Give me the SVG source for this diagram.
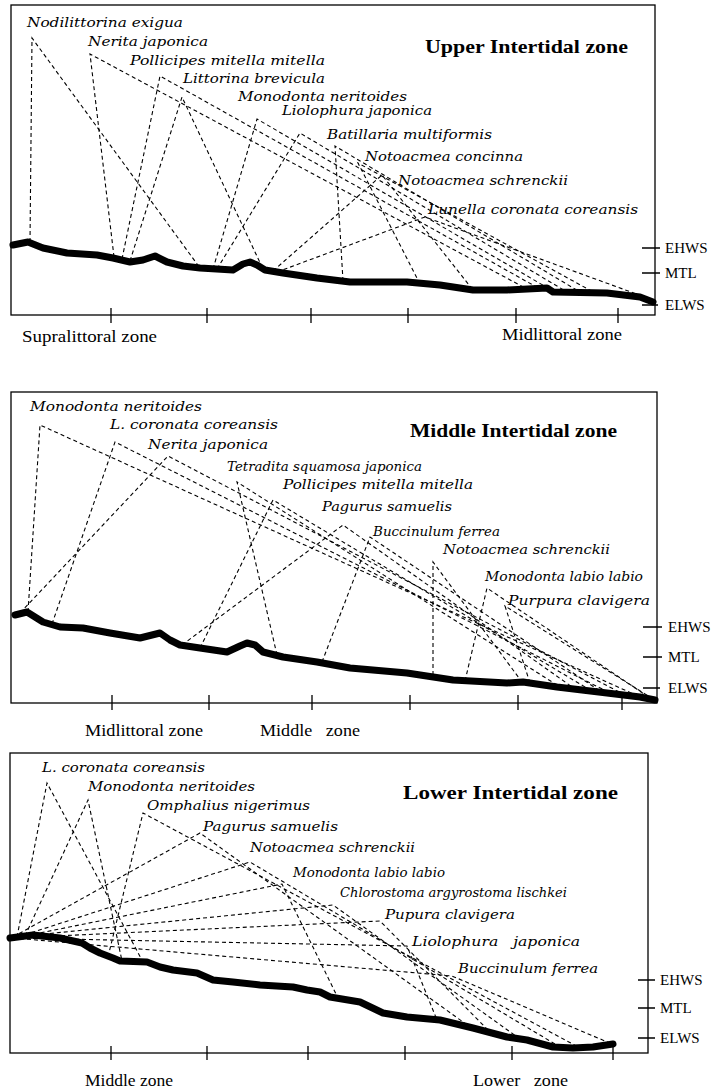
<svg xmlns="http://www.w3.org/2000/svg" width="716" height="1092" viewBox="0 0 716 1092">
<style>
.frame{fill:none;stroke:#000;stroke-width:1.3}
.tick{stroke:#000;stroke-width:1.3}
.ground{fill:none;stroke:#000;stroke-width:7;stroke-linejoin:round;stroke-linecap:round}
.dash{fill:none;stroke:#000;stroke-width:1.1;stroke-dasharray:4 3}
.sp{font-family:"DejaVu Serif","Liberation Serif",serif;font-style:italic;font-size:13px;fill:#000}
.title{font-family:"Liberation Serif",serif;font-weight:bold;font-size:19px;fill:#000}
.lvl{font-family:"Liberation Serif",serif;font-size:15px;fill:#000}
.zone{font-family:"Liberation Serif",serif;font-size:16px;fill:#000}
</style>
<rect width="716" height="1092" fill="#fff"/>

<!-- ================= PANEL 1 ================= -->
<g id="panel-upper">
  <rect class="frame" x="11" y="5" width="644" height="310"/>
  <path class="tick" d="M111,308V323 M207,308V323 M311,308V323 M408,308V323 M516,308V323 M618,308V323"/>
  <path class="tick" d="M642,248H660 M642,273H660 M642,305H658"/>
  <text class="lvl" x="665" y="253">EHWS</text>
  <text class="lvl" x="665" y="278">MTL</text>
  <text class="lvl" x="665" y="310">ELWS</text>
  <text class="zone" x="22" y="342" textLength="135" lengthAdjust="spacingAndGlyphs">Supralittoral zone</text>
  <text class="zone" x="502" y="340" textLength="120" lengthAdjust="spacingAndGlyphs">Midlittoral zone</text>
  <text class="title" x="425" y="53" textLength="203" lengthAdjust="spacingAndGlyphs">Upper Intertidal zone</text>
  <path class="ground" d="M13,245 L28,242 L43,248 L67,253 L97,255 L113,258 L130,262 L143,260 L155,256 L167,262 L183,266 L200,268 L233,270 L243,264 L250,262 L257,265 L265,270 L283,273 L317,278 L350,282 L407,282 L440,285 L473,290 L507,290 L547,288 L553,292 L607,293 L640,297 L653,302"/>
</g>
<g id="u-nodilittorina"><text class="sp" x="27" y="27" textLength="156" lengthAdjust="spacingAndGlyphs">Nodilittorina exigua</text></g>
<g id="u-nerita"><text class="sp" x="88" y="46" textLength="120" lengthAdjust="spacingAndGlyphs">Nerita japonica</text></g>
<g id="u-pollicipes"><text class="sp" x="130" y="65" textLength="195" lengthAdjust="spacingAndGlyphs">Pollicipes mitella mitella</text></g>
<g id="u-littorina"><text class="sp" x="183" y="83" textLength="142" lengthAdjust="spacingAndGlyphs">Littorina brevicula</text></g>
<g id="u-monodonta"><text class="sp" x="238" y="101" textLength="169" lengthAdjust="spacingAndGlyphs">Monodonta neritoides</text></g>
<g id="u-liolophura"><text class="sp" x="282" y="115" textLength="150" lengthAdjust="spacingAndGlyphs">Liolophura japonica</text></g>
<g id="u-batillaria"><text class="sp" x="327" y="139" textLength="165" lengthAdjust="spacingAndGlyphs">Batillaria multiformis</text></g>
<g id="u-concinna"><text class="sp" x="365" y="161" textLength="158" lengthAdjust="spacingAndGlyphs">Notoacmea concinna</text></g>
<g id="u-schrenckii"><text class="sp" x="398" y="185" textLength="170" lengthAdjust="spacingAndGlyphs">Notoacmea schrenckii</text></g>
<g id="u-lunella"><text class="sp" x="428" y="214" textLength="210" lengthAdjust="spacingAndGlyphs">Lunella coronata coreansis</text></g>

<!-- ================= PANEL 2 ================= -->
<g id="panel-middle">
  <rect class="frame" x="11" y="392" width="646" height="311"/>
  <path class="tick" d="M112,695V710 M209,695V710 M312,695V710 M410,695V710 M518,695V710 M622,695V710"/>
  <path class="tick" d="M643,627H662 M643,657H662 M643,688H660"/>
  <text class="lvl" x="668" y="632">EHWS</text>
  <text class="lvl" x="668" y="662">MTL</text>
  <text class="lvl" x="668" y="693">ELWS</text>
  <text class="zone" x="85" y="736" textLength="118" lengthAdjust="spacingAndGlyphs">Midlittoral zone</text>
  <text class="zone" x="260" y="736" textLength="100" lengthAdjust="spacingAndGlyphs" xml:space="preserve">Middle   zone</text>
  <text class="title" x="410" y="437" textLength="207" lengthAdjust="spacingAndGlyphs">Middle Intertidal zone</text>
  <path class="ground" d="M15,615 L27,612 L43,622 L60,627 L83,628 L110,633 L140,638 L160,633 L170,640 L180,645 L200,648 L227,652 L240,646 L247,643 L255,645 L263,652 L283,657 L317,662 L350,668 L407,673 L453,680 L507,683 L523,682 L557,687 L607,693 L640,697 L655,700"/>
</g>
<g id="m-monodonta"><text class="sp" x="30" y="411" textLength="172" lengthAdjust="spacingAndGlyphs">Monodonta neritoides</text></g>
<g id="m-lcoronata"><text class="sp" x="110" y="429" textLength="168" lengthAdjust="spacingAndGlyphs">L. coronata coreansis</text></g>
<g id="m-nerita"><text class="sp" x="148" y="449" textLength="120" lengthAdjust="spacingAndGlyphs">Nerita japonica</text></g>
<g id="m-tetradita"><text class="sp" x="227" y="471" textLength="195" lengthAdjust="spacingAndGlyphs">Tetradita squamosa japonica</text></g>
<g id="m-pollicipes"><text class="sp" x="283" y="489" textLength="190" lengthAdjust="spacingAndGlyphs">Pollicipes mitella mitella</text></g>
<g id="m-pagurus"><text class="sp" x="322" y="511" textLength="130" lengthAdjust="spacingAndGlyphs">Pagurus samuelis</text></g>
<g id="m-buccinulum"><text class="sp" x="373" y="536" textLength="127" lengthAdjust="spacingAndGlyphs">Buccinulum ferrea</text></g>
<g id="m-schrenckii"><text class="sp" x="443" y="554" textLength="167" lengthAdjust="spacingAndGlyphs">Notoacmea schrenckii</text></g>
<g id="m-labio"><text class="sp" x="485" y="581" textLength="158" lengthAdjust="spacingAndGlyphs">Monodonta labio labio</text></g>
<g id="m-purpura"><text class="sp" x="508" y="605" textLength="142" lengthAdjust="spacingAndGlyphs">Purpura clavigera</text></g>

<!-- ================= PANEL 3 ================= -->
<g id="panel-lower">
  <rect class="frame" x="10" y="753" width="638" height="300"/>
  <path class="tick" d="M111,1046V1060 M207,1046V1060 M308,1046V1060 M405,1046V1060 M512,1046V1060 M613,1046V1060"/>
  <path class="tick" d="M638,980H655 M638,1008H655 M638,1038H655"/>
  <text class="lvl" x="660" y="985">EHWS</text>
  <text class="lvl" x="660" y="1013">MTL</text>
  <text class="lvl" x="660" y="1043">ELWS</text>
  <text class="zone" x="85" y="1086" textLength="88" lengthAdjust="spacingAndGlyphs">Middle zone</text>
  <text class="zone" x="473" y="1086" textLength="95" lengthAdjust="spacingAndGlyphs" xml:space="preserve">Lower   zone</text>
  <text class="title" x="403" y="799" textLength="215" lengthAdjust="spacingAndGlyphs">Lower Intertidal zone</text>
  <path class="ground" d="M10,938 L33,935 L60,938 L82,943 L90,948 L100,953 L113,958 L120,961 L147,962 L160,967 L173,970 L197,973 L213,980 L233,982 L260,985 L293,987 L307,990 L320,992 L330,997 L360,1002 L383,1013 L407,1017 L440,1020 L473,1028 L507,1037 L527,1040 L553,1047 L573,1048 L593,1047 L613,1044"/>
</g>
<g id="l-lcoronata"><text class="sp" x="42" y="772" textLength="163" lengthAdjust="spacingAndGlyphs">L. coronata coreansis</text></g>
<g id="l-monodonta"><text class="sp" x="88" y="791" textLength="167" lengthAdjust="spacingAndGlyphs">Monodonta neritoides</text></g>
<g id="l-omphalius"><text class="sp" x="147" y="810" textLength="163" lengthAdjust="spacingAndGlyphs">Omphalius nigerimus</text></g>
<g id="l-pagurus"><text class="sp" x="203" y="831" textLength="135" lengthAdjust="spacingAndGlyphs">Pagurus samuelis</text></g>
<g id="l-schrenckii"><text class="sp" x="250" y="852" textLength="165" lengthAdjust="spacingAndGlyphs">Notoacmea schrenckii</text></g>
<g id="l-labio"><text class="sp" x="293" y="877" textLength="152" lengthAdjust="spacingAndGlyphs">Monodonta labio labio</text></g>
<g id="l-chlorostoma"><text class="sp" x="340" y="897" textLength="227" lengthAdjust="spacingAndGlyphs">Chlorostoma argyrostoma lischkei</text></g>
<g id="l-pupura"><text class="sp" x="385" y="919" textLength="130" lengthAdjust="spacingAndGlyphs">Pupura clavigera</text></g>
<g id="l-liolophura"><text class="sp" x="412" y="946" textLength="168" lengthAdjust="spacingAndGlyphs" xml:space="preserve">Liolophura   japonica</text></g>
<g id="l-buccinulum"><text class="sp" x="458" y="973" textLength="140" lengthAdjust="spacingAndGlyphs">Buccinulum ferrea</text></g>

<!-- ================= CONNECTORS ================= -->
<g id="connectors">
  <!-- panel 1 -->
  <path class="dash" d="M30,242 L32,38 L200,268"/>
  <path class="dash" d="M114,257 L90,54 L527,289"/>
  <path class="dash" d="M122,259 L160,76 L540,289"/>
  <path class="dash" d="M130,261 L182,97 L263,269"/>
  <path class="dash" d="M213,269 L257,119 L553,291"/>
  <path class="dash" d="M217,269 L300,133 L567,292"/>
  <path class="dash" d="M343,281 L335,146 L580,292"/>
  <path class="dash" d="M420,284 L358,163 L595,293"/>
  <path class="dash" d="M273,271 L382,175 L473,290"/>
  <path class="dash" d="M277,272 L425,217 L653,300"/>
  <!-- panel 2 -->
  <path class="dash" d="M28,612 L40,425 L640,697"/>
  <path class="dash" d="M52,624 L115,442 L610,693"/>
  <path class="dash" d="M20,613 L168,456 L625,695"/>
  <path class="dash" d="M277,655 L237,482 L560,687"/>
  <path class="dash" d="M200,648 L273,500 L590,690"/>
  <path class="dash" d="M182,645 L343,525 L575,689"/>
  <path class="dash" d="M322,662 L370,537 L600,691"/>
  <path class="dash" d="M433,675 L433,562 L522,682"/>
  <path class="dash" d="M465,681 L487,588 L650,698"/>
  <path class="dash" d="M530,683 L505,606 L653,699"/>
  <!-- panel 3 -->
  <path class="dash" d="M17,937 L47,783 L143,962"/>
  <path class="dash" d="M25,936 L88,800 L122,961"/>
  <path class="dash" d="M108,957 L143,813 L580,1048"/>
  <path class="dash" d="M13,937 L200,833 L470,1027"/>
  <path class="dash" d="M18,937 L250,862 L560,1047"/>
  <path class="dash" d="M20,937 L282,884 L338,998"/>
  <path class="dash" d="M15,937 L333,905 L520,1039"/>
  <path class="dash" d="M12,938 L380,921 L490,1032"/>
  <path class="dash" d="M12,938 L407,946 L437,1020"/>
  <path class="dash" d="M13,938 L452,976 L612,1044"/>
</g>
</svg>
